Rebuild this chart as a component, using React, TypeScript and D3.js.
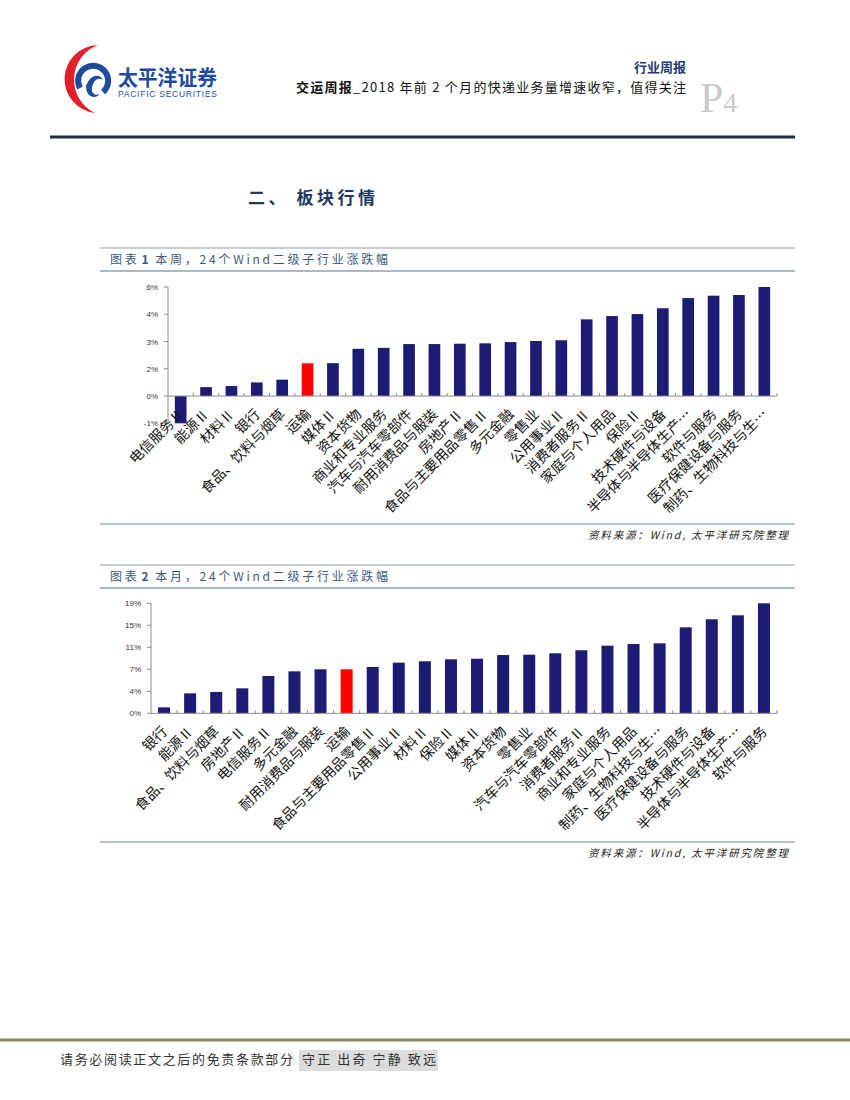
import React from "react";
import * as d3 from "d3";

// 图表1 本周
const weekCats = ['电信服务Ⅱ', '能源Ⅱ', '材料Ⅱ', '银行', '食品、饮料与烟草', '运输', '媒体Ⅱ', '资本货物', '商业和专业服务', '汽车与汽车零部件', '耐用消费品与服装', '房地产Ⅱ', '食品与主要用品零售Ⅱ', '多元金融', '零售业', '公用事业Ⅱ', '消费者服务Ⅱ', '家庭与个人用品', '保险Ⅱ', '技术硬件与设备', '半导体与半导体生产…', '软件与服务', '医疗保健设备与服务', '制药、生物科技与生…']
const weekVals = [-1.5, 0.49, 0.55, 0.75, 0.9, 1.8, 1.81, 2.6, 2.65, 2.86, 2.86, 2.88, 2.9, 2.97, 3.03, 3.07, 4.22, 4.4, 4.51, 4.83, 5.39, 5.52, 5.56, 6.0]
const weekTicks = [-1.5, 0, 1.5, 3, 4.5, 6]
const weekTickLabels = ['-1%', '0%', '2%', '3%', '4%', '6%']

// 图表2 本月
const monthCats = ['银行', '能源Ⅱ', '食品、饮料与烟草', '房地产Ⅱ', '电信服务Ⅱ', '多元金融', '耐用消费品与服装', '运输', '食品与主要用品零售Ⅱ', '公用事业Ⅱ', '材料Ⅱ', '保险Ⅱ', '媒体Ⅱ', '资本货物', '零售业', '汽车与汽车零部件', '消费者服务Ⅱ', '商业和专业服务', '家庭与个人用品', '制药、生物科技与生…', '医疗保健设备与服务', '技术硬件与设备', '半导体与半导体生产…', '软件与服务']
const monthVals = [1.0, 3.36, 3.59, 4.2, 6.28, 7.06, 7.4, 7.4, 7.79, 8.52, 8.75, 9.08, 9.18, 9.8, 9.86, 10.09, 10.6, 11.37, 11.65, 11.77, 14.46, 15.81, 16.48, 18.5]
const monthTicks = [0, 3.7, 7.4, 11.1, 14.8, 18.5]
const monthTickLabels = ['0%', '4%', '7%', '11%', '15%', '19%']

const highlight = '运输'

const CJK = '"Noto Sans CJK SC", sans-serif'
const NAVY = '#1c1c74'
const AXIS = '#8c8c8c'

type BarsProps = {
    cats: string[],
    vals: number[],
    ticks: number[],
    tickLabels: string[],
    x0: number,
    x1: number,
    yTop: number,
    yBottom: number,
    labelDx: number,
    labelDy: number,
}

const Bars = ({ cats, vals, ticks, tickLabels, x0, x1, yTop, yBottom, labelDx, labelDy }: BarsProps) => {
    const x = d3.scaleBand().domain(cats).range([x0, x1]).paddingInner(0.54).paddingOuter(0.27)
    const y = d3.scaleLinear().domain([ticks[0], ticks[ticks.length - 1]]).range([yBottom, yTop])
    const y0 = y(0)
    const center = (c: string) => x(c)! + x.bandwidth() / 2

    return <g>
        {/* y axis */}
        <line x1={x0} x2={x0} y1={y(ticks[ticks.length - 1])} y2={y(ticks[0])} stroke={AXIS} strokeWidth={1} />
        {ticks.map((t, i) => <g key={'yt' + i}>
            <line x1={x0 - 4} x2={x0} y1={y(t)} y2={y(t)} stroke={AXIS} />
            <text x={x0 - 10} y={y(t) + 3} textAnchor="end" fontSize={8} fill="#333"
                fontFamily="'Liberation Sans', Arial, sans-serif">{tickLabels[i]}</text>
        </g>)}

        {/* bars */}
        {cats.map((c, i) => <rect key={'b' + i}
            x={x(c)} width={x.bandwidth()}
            y={Math.min(y(vals[i]), y0)} height={Math.abs(y(vals[i]) - y0)}
            fill={c === highlight ? '#ff0000' : NAVY} />)}

        {/* x axis */}
        <line x1={x0} x2={x1} y1={y0} y2={y0} stroke={AXIS} strokeWidth={1} />
        {cats.map((c, i) => {
            const bx = center(c) + x.step() / 2
            return <line key={'xt' + i} x1={bx} x2={bx} y1={y0} y2={y0 - 3} stroke={AXIS} />
        })}

        {/* category labels */}
        {cats.map((c, i) => {
            const ax = center(c) + labelDx
            const ay = y0 + labelDy
            return <text key={'l' + i} x={ax} y={ay} textAnchor="end" fontSize={14}
                fontFamily={CJK} fill="#111" transform={`rotate(-45 ${ax} ${ay})`}>{c}</text>
        })}
    </g>
}

const ChartFrame = ({ top, titleNum, titleRest, bottom }: { top: number, titleNum: string, titleRest: string, bottom: number }) => {
    return <g>
        <line x1={100} x2={795} y1={top} y2={top} stroke="#8ea2b8" strokeWidth={1} />
        <text x={110} y={top + 16} fontSize={12} fontFamily={CJK} fill="#3d5a7a" textLength={278} lengthAdjust="spacing">
            <tspan>图表</tspan><tspan fontWeight="bold" dx={2}>{titleNum}</tspan><tspan dx={4}>{titleRest}</tspan>
        </text>
        <line x1={100} x2={795} y1={top + 23} y2={top + 23} stroke="#5a7390" strokeWidth={1.2} />
        <line x1={100} x2={795} y1={bottom} y2={bottom} stroke="#6f8398" strokeWidth={1} />
        <text x={788} y={bottom + 15} textAnchor="end" fontSize={10.5} fontStyle="italic" fontFamily={CJK}
            fill="#222" textLength={200} lengthAdjust="spacing">资料来源：Wind, 太平洋研究院整理</text>
    </g>
}

const Logo = () => {
    return <g>
        {/* red crescent */}
        <path d="M 98 45 A 34.1 34.1 0 0 0 95 113 A 37 37 0 0 1 98 45 Z" fill="#e2202c" />
        {/* blue ring + swirl */}
        <path d="M 80 88 A 15 15 0 1 1 103 92" fill="none" stroke="#1e4b9c" strokeWidth={6} />
        <path d="M 86 86 C 90 74, 100 73, 103 80 C 99 77, 93 80, 92 88 C 91 94, 96 96, 100 94 C 95 100, 86 97, 86 86 Z" fill="#1e4b9c" />
        <text x={118} y={85} fontSize={21} fontWeight="bold" fontFamily={CJK} fill="#1e4b9c"
            textLength={99} lengthAdjust="spacingAndGlyphs">太平洋证券</text>
        <text x={118} y={97} fontSize={8.5} fontFamily="'Liberation Sans', Arial, sans-serif" fill="#1e4b9c"
            textLength={99} lengthAdjust="spacing">PACIFIC SECURITIES</text>
    </g>
}

const App = () => {
    return <svg width={850} height={1100} viewBox="0 0 850 1100"
        style={{ position: 'absolute', left: 0, top: 0, background: '#fff' }}>
        <rect x={0} y={0} width={850} height={1100} fill="#fff" />
        <Logo />

        {/* header */}
        <text x={686} y={72} textAnchor="end" fontSize={13} fontWeight="bold" fontFamily={CJK} fill="#1f3c6e">行业周报</text>
        <text x={296} y={92} fontSize={13} fontFamily={CJK} fill="#111" textLength={390} lengthAdjust="spacing">
            <tspan fontWeight="bold">交运周报</tspan><tspan>_2018 年前 2 个月的快递业务量增速收窄，值得关注</tspan>
        </text>
        <text x={700} y={112} fontSize={42} fontFamily="'Liberation Serif', serif" fill="#c9c9c9">P<tspan fontSize={28}>4</tspan></text>
        <line x1={50} x2={795} y1={137} y2={137} stroke="#1d2d4d" strokeWidth={3} />

        <text x={248} y={204} fontSize={17} fontWeight="bold" fontFamily={CJK} fill="#1f3864"
            textLength={127} lengthAdjust="spacing">二、 板块行情</text>

        <ChartFrame top={248} titleNum="1" titleRest="本周，24个Wind二级子行业涨跌幅" bottom={524} />
        <Bars cats={weekCats} vals={weekVals} ticks={weekTicks} tickLabels={weekTickLabels}
            x0={168} x1={777} yTop={287} yBottom={423.3} labelDx={4} labelDy={19} />

        <ChartFrame top={565} titleNum="2" titleRest="本月，24个Wind二级子行业涨跌幅" bottom={842} />
        <Bars cats={monthCats} vals={monthVals} ticks={monthTicks} tickLabels={monthTickLabels}
            x0={151} x1={777} yTop={603.3} yBottom={713.3} labelDx={4} labelDy={19} />

        {/* footer */}
        <line x1={0} x2={850} y1={1040} y2={1040} stroke="#8c8660" strokeWidth={3} />
        <text x={60} y={1064} fontSize={13} fontFamily={CJK} fill="#333" textLength={233} lengthAdjust="spacing">请务必阅读正文之后的免责条款部分</text>
        <rect x={299} y={1050} width={139} height={21} fill="#dcdcdc" />
        <text x={302} y={1064} fontSize={13} fontFamily={CJK} fill="#333" textLength={134} lengthAdjust="spacing">守正 出奇 宁静 致远</text>
    </svg>
}

export default App
